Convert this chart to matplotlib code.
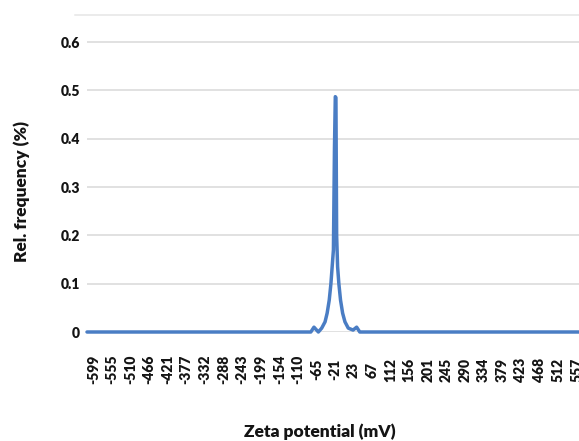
import matplotlib
matplotlib.use('Agg')
import matplotlib.pyplot as plt

plt.rcParams['font.family'] = ['Lato', 'DejaVu Sans']
plt.rcParams['font.weight'] = 'heavy'

# zeta potential (mV) vs relative frequency (%)
zeta = [-614, -105, -79, -71.5, -61, -53, -45, -40, -35, -31, -28, -25,
        -22.5, -20.5, -19, -17.3, -15, -12, -8, -3, 2.6, 10.5, 22, 30.5, 38, 600]
freq = [0, 0, 0, 0.01, 0, 0.008, 0.021, 0.039, 0.066, 0.1, 0.135, 0.17,
        0.38, 0.487, 0.485, 0.2, 0.135, 0.1, 0.066, 0.039, 0.021, 0.008, 0.004,
        0.01, 0, 0]

xtick_vals = [-599, -555, -510, -466, -421, -377, -332, -288, -243, -199,
              -154, -110, -65, -21, 23, 67, 112, 156, 201, 245, 290, 334,
              379, 423, 468, 512, 557]
ytick_vals = [0, 0.1, 0.2, 0.3, 0.4, 0.5, 0.6]
ytick_labels = ['0', '0.1', '0.2', '0.3', '0.4', '0.5', '0.6']

fig = plt.figure(figsize=(5.79, 4.41), dpi=100)
ax = fig.add_axes([87/579, 109/441, 492/579, 317/441])

ax.plot(zeta, freq, color='#4a7dc4', lw=2.5, clip_on=False, zorder=3,
        solid_joinstyle='round', solid_capstyle='round')

ax.set_xlim(-614, 562)
ax.set_ylim(0, 0.656)

ax.set_yticks(ytick_vals)
ax.set_yticklabels(ytick_labels)
ax.set_xticks(xtick_vals)
ax.set_xticklabels([str(v) for v in xtick_vals], rotation=90, va='center', ha='center')

ax.tick_params(axis='y', length=0, pad=5, labelsize=10, colors='#141414')
ax.tick_params(axis='x', length=0, pad=27, labelsize=10, colors='#141414')

ax.yaxis.grid(True, color='#d9d9d9', lw=1.1)
ax.set_axisbelow(True)
for s in ax.spines.values():
    s.set_visible(False)
# faint line at the top of the plot area
ax.axhline(0.656, xmin=-0.025, xmax=1, color='#e6e6e6', lw=1.1, clip_on=False)

fig.text(22/579, 1 - 191/441, 'Rel. frequency (%)', rotation=90,
         ha='center', va='center', fontsize=12.5, fontweight='heavy', color='#141414')
fig.text(320/579, 1 - 432/441, 'Zeta potential (mV)',
         ha='center', va='center', fontsize=12.5, fontweight='heavy', color='#141414')

fig.savefig('out.png', dpi=100)
